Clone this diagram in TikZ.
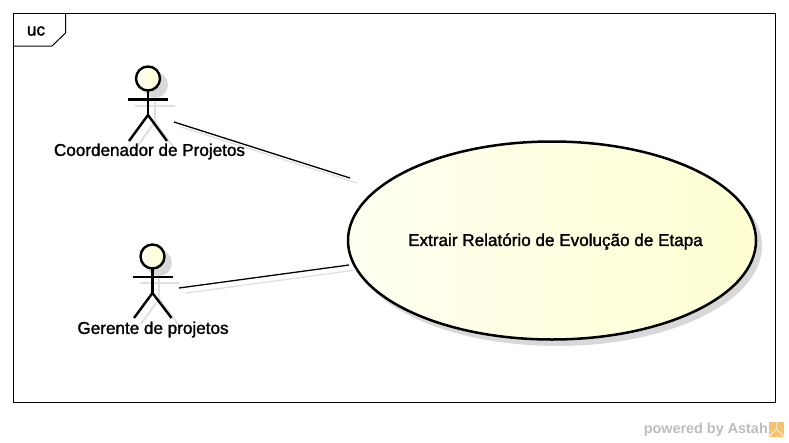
\documentclass[tikz,border=0pt]{standalone}
\usepackage{fontspec}
\setmainfont{Liberation Sans}
\newfontfamily\umlfont[FakeBold=1.6]{Liberation Sans}
\usepackage{xcolor}
\usetikzlibrary{shapes.geometric}
\definecolor{ucCream}{HTML}{FFFFF2}
\definecolor{ucYellow}{HTML}{FFFFD2}
\definecolor{ucShadow}{HTML}{D8D8D8}
\definecolor{ucPowered}{HTML}{BDBDBD}
\definecolor{ucSun}{HTML}{F5C26E}
\definecolor{ucSunPale}{HTML}{FBE8C4}
\tikzset{
    limb/.style={line width=2.4pt,draw=black},
    limbshadow/.style={line width=2pt,draw=ucShadow!80},
    head/.style={
        circle,draw=black,line width=2.4pt,minimum size=24pt,inner sep=0pt,
        left color=ucCream,right color=ucYellow
    },
    headshadow/.style={circle,fill=ucShadow,minimum size=26pt,inner sep=0pt},
    umltext/.style={font=\fontsize{17.1pt}{20pt}\umlfont,text=black,inner sep=0pt},
    assoc/.style={line width=1.3pt,draw=black},
    assocshadow/.style={line width=1.3pt,draw=ucShadow!80}
}
\begin{document}
\begin{tikzpicture}[x=1pt,y=-1pt]
\useasboundingbox (0,0) rectangle (789,442);

% frame
\node[draw=black,line width=1pt,minimum width=762pt,minimum height=389pt,inner sep=0pt](frame) at (394.5,208) {};
\coordinate (tabA) at (13.5,46);
\coordinate (tabB) at (52,46);
\coordinate (tabC) at (65.5,33);
\coordinate (tabD) at (65.5,13.5);
\draw[line width=1pt](tabA)--(tabB)--(tabC)--(tabD);
\node[umltext](uc) at (36,31) {uc};

% shadows first
\node[ellipse,fill=ucShadow,minimum width=410pt,minimum height=200pt,inner sep=0pt](ucshadow) at (557,246) {};
\node[headshadow](h1s) at (155,85) {};
\node[headshadow](h2s) at (159,263) {};
\draw[limbshadow](135,106)--(175,106);
\draw[limbshadow](155,98)--(155,122)--(136,148);
\draw[limbshadow](155,122)--(174,148);
\draw[limbshadow](140,283)--(179,283);
\draw[limbshadow](159,275)--(159,299)--(141,324);
\draw[limbshadow](159,299)--(178,324);

% first actor
\node[head](h1) at (148,78.5) {};
\coordinate (n1) at (148,91);
\coordinate (w1) at (148,115);
\coordinate (a1l) at (128,99.5);
\coordinate (a1r) at (168,99.5);
\coordinate (f1l) at (129,141);
\coordinate (f1r) at (167,141);
\draw[limb](n1)--(w1);
\draw[limb](a1l)--(a1r);
\draw[limb](f1l)--(w1)--(f1r);
\node[umltext](coord) at (149.5,151.5) {Coordenador de Projetos};

% second actor
\node[head](h2) at (152.5,256.5) {};
\coordinate (n2) at (152.5,269);
\coordinate (w2) at (152.5,293);
\coordinate (a2l) at (133,277);
\coordinate (a2r) at (172.5,277);
\coordinate (f2l) at (134,318);
\coordinate (f2r) at (171.5,318);
\draw[limb](n2)--(w2);
\draw[limb](a2l)--(a2r);
\draw[limb](f2l)--(w2)--(f2r);
\node[umltext](ger) at (153,329.5) {Gerente de projetos};

% use case
\node[ellipse,draw=black,line width=2.5pt,left color=ucCream,right color=ucYellow,
minimum width=408pt,minimum height=198pt,inner sep=0pt](case) at (552,240.5) {};
\node[umltext](casetext) at (555.5,241.5) {Extrair Relatório de Evolução de Etapa};

% associations
\coordinate (c1a) at (174,122);
\coordinate (c1b) at (350,178);
\coordinate (c2a) at (179,288);
\coordinate (c2b) at (349,265);
\coordinate (s1a) at (181,127);
\coordinate (s1b) at (357,183);
\coordinate (s2a) at (186,293);
\coordinate (s2b) at (356,270);
\draw[assocshadow](s1a)--(s1b);
\draw[assocshadow](s2a)--(s2b);
\draw[assoc](c1a)--(c1b);
\draw[assoc](c2a)--(c2b);

% footer
\node[font=\fontsize{14.4pt}{18pt}\selectfont\bfseries,text=ucPowered,anchor=east,inner sep=0pt](pow) at (768,430) {powered by Astah};
\node[fill=ucSun,minimum size=15pt,inner sep=0pt](logo) at (776.5,429) {};
\draw[ucSunPale,line width=1.2pt](logo.center)--(logo.south west);
\draw[ucSunPale,line width=1.2pt](logo.center)--(logo.south east);
\draw[ucSunPale,line width=1.2pt](logo.center)--(logo.north);

\end{tikzpicture}
\end{document}
